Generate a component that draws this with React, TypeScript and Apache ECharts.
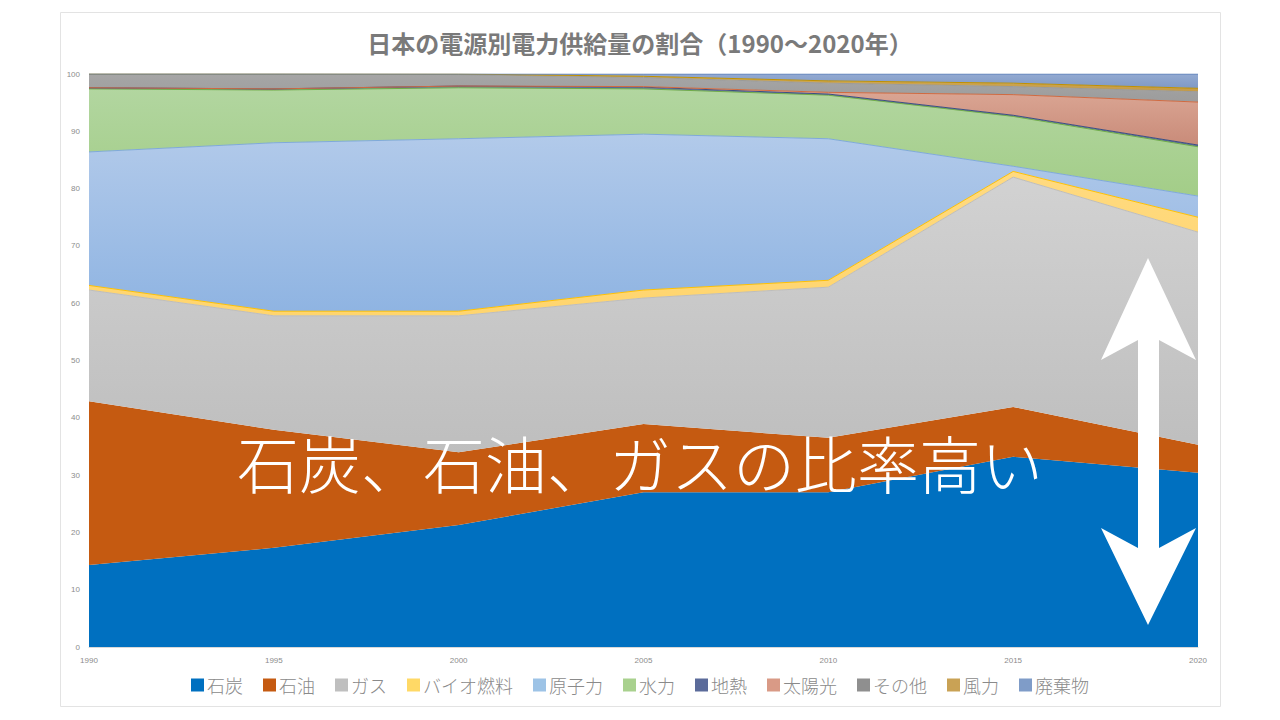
import React, { useEffect, useRef } from "react";
import * as echarts from "echarts";

const years = ["1990", "1995", "2000", "2005", "2010", "2015", "2020"];

const coal = [14.3, 17.3, 21.3, 27.0, 27.0, 33.2, 30.4];
const oil = [28.6, 20.6, 12.7, 11.9, 9.5, 8.7, 4.9];
const gas = [19.4, 19.9, 23.8, 22.0, 26.3, 40.1, 37.1];
const bio = [0.8, 0.8, 0.8, 1.4, 1.2, 1.0, 2.6];
const nuclear = [23.3, 29.4, 30.1, 27.2, 24.7, 0.9, 3.7];
const hydro = [11.0, 9.2, 8.9, 7.9, 7.6, 8.7, 8.6];
const geo = [0.2, 0.2, 0.3, 0.3, 0.2, 0.2, 0.3];
const solar = [0, 0, 0, 0.1, 0.3, 3.6, 7.5];
const other = [2.4, 2.6, 2.0, 1.6, 1.6, 1.4, 1.8];
const wind = [0, 0, 0.1, 0.2, 0.4, 0.6, 0.6];
const waste = [0, 0, 0, 0.4, 1.2, 1.6, 2.5];

const names = ["石炭", "石油", "ガス", "バイオ燃料", "原子力", "水力", "地熱", "太陽光", "その他", "風力", "廃棄物"];
const values = [coal, oil, gas, bio, nuclear, hydro, geo, solar, other, wind, waste];
const legendColors = ["#0070C0", "#C55A11", "#BFBFBF", "#FFD966", "#9DC3E6", "#A9D18E", "#5B6B9A", "#D99A86", "#8F8F8F", "#C9A255", "#7F9CC8"];
const fillTop = ["#0070C0", "#C55A11", "#D2D2D2", "#FFDA80", "#B2CAEA", "#B2D6A0", "#6E7FA8", "#DCA896", "#A6A6A6", "#D4AE5A", "#93AAD2"];
const fillBottom = ["#0070C0", "#C55A11", "#BEBEBE", "#FFD56E", "#8FB4E2", "#A3CD88", "#5E6F9C", "#C98B79", "#9C9C9C", "#C49A45", "#7F99C4"];
const lineColors = ["#0070C0", "#C55A11", "#BDBDBD", "#FFC000", "#7FA9DA", "#70AD47", "#3B4E80", "#D06A40", "#9A9A9A", "#BF9000", "#5B7FB8"];

export default function App() {
  const ref = useRef<HTMLDivElement>(null);
  useEffect(() => {
    if (!ref.current) return;
    const chart = echarts.init(ref.current, null, { renderer: "svg" });
    const series = names.map((n, i) => ({
      name: n,
      type: "line",
      stack: "total",
      data: values[i],
      symbol: "none",
      showSymbol: false,
      lineStyle: { width: i === 0 || i === 1 ? 0 : 1, color: lineColors[i] },
      itemStyle: { color: legendColors[i] },
      areaStyle: {
        opacity: 1,
        color: new echarts.graphic.LinearGradient(0, 0, 0, 1, [
          { offset: 0, color: fillTop[i] },
          { offset: 1, color: fillBottom[i] },
        ]),
      },
      z: 2,
    }));
    const cx = 1148;
    chart.setOption({
      animation: false,
      backgroundColor: "#ffffff",
      title: {
        text: "日本の電源別電力供給量の割合（1990〜2020年）",
        left: "center",
        top: 25,
        textStyle: {
          fontFamily: "Noto Sans CJK JP",
          fontSize: 24,
          fontWeight: "bold",
          color: "#7a7a7a",
        },
      },
      legend: {
        bottom: 21,
        left: "center",
        icon: "rect",
        itemWidth: 13,
        itemHeight: 13,
        itemGap: 20,
        textStyle: { fontFamily: "Noto Sans CJK JP", fontSize: 18, fontWeight: 300, color: "#8a8a8a", padding: [0, 0, 0, -2] },
        data: names,
      },
      grid: { left: 89, right: 82, top: 74, bottom: 73 },
      xAxis: {
        type: "category",
        data: years,
        boundaryGap: false,
        axisLine: { show: true, lineStyle: { color: "#d9d9d9" } },
        axisTick: { show: false },
        axisLabel: { fontSize: 8, color: "#8c8c8c", margin: 9, fontFamily: "Liberation Sans" },
        splitLine: { show: false },
      },
      yAxis: {
        type: "value",
        min: 0,
        max: 100,
        interval: 10,
        axisLine: { show: false },
        axisTick: { show: false },
        splitLine: { show: false },
        axisLabel: { fontSize: 8, color: "#8c8c8c", margin: 9, fontFamily: "Liberation Sans" },
      },
      series,
      graphic: [
        {
          type: "rect",
          shape: { x: 60.5, y: 12.5, width: 1160, height: 694 },
          style: { fill: "none", stroke: "#e3e3e3", lineWidth: 1 },
          z: 0,
          silent: true,
        },
        {
          type: "polygon",
          shape: {
            points: [
              [cx, 258],
              [cx + 48, 360],
              [cx + 11, 340],
              [cx + 11, 548],
              [cx + 48, 528],
              [cx, 625],
              [cx - 47, 528],
              [cx - 10, 548],
              [cx - 10, 340],
              [cx - 47, 360],
            ],
          },
          style: { fill: "#ffffff" },
          z: 100,
        },
        {
          type: "text",
          x: 640,
          y: 462,
          style: {
            text: "石炭、石油、ガスの比率高い",
            fill: "#ffffff",
            font: '300 62px "Noto Sans CJK JP"',
            textAlign: "center",
            textVerticalAlign: "middle",
          },
          z: 100,
        },
      ],
    });
    return () => chart.dispose();
  }, []);
  return (
    <div
      ref={ref}
      style={{ position: "fixed", left: 0, top: 0, width: 1280, height: 720, background: "#fff" }}
    />
  );
}
